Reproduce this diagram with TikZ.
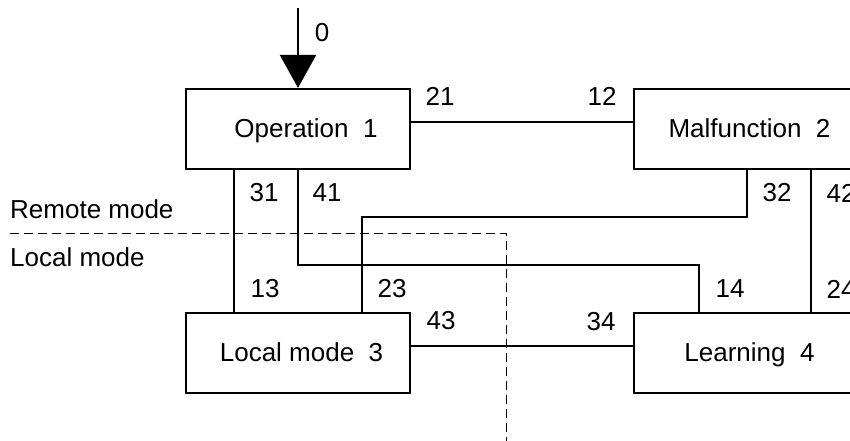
\documentclass[tikz,border=0pt]{standalone}
\usepackage{fontspec}
\setmainfont{Liberation Sans}
\usetikzlibrary{arrows.meta}

\begin{document}
\begin{tikzpicture}[x=1pt,y=-1pt]
\tikzstyle{every node}=[font=\fontsize{26}{30}\selectfont]
\tikzstyle{state}=[rectangle, draw, line width=2.2pt, minimum width=224pt, minimum height=80pt, inner sep=0pt, text height=20pt, text depth=4pt]
\tikzstyle{num}=[inner sep=0pt]
\tikzstyle{link}=[line width=2.2pt]
\path[use as bounding box, clip] (0,0) rectangle (850,441);

% states
\node[state] (op) at (298,129) {\hspace*{16pt}Operation\ \ 1};
\node[state] (mal) at (746,129) {\hspace*{7pt}Malfunction\ \ 2};
\node[state] (loc) at (298,353) {\hspace*{7pt}Local mode\ \ 3};
\node[state] (lrn) at (746,353) {\hspace*{7pt}Learning\ \ 4};

% start
\coordinate (start) at (298,8);
\draw[link, -{Triangle[length=33pt,width=36pt]}] (start) -- (op.north);
\node[num] (t0) at (322,33) {0};

% transitions
\draw[link] ([yshift=7pt]op.east) -- ([yshift=7pt]mal.west);
\draw[link] ([yshift=7pt]loc.east) -- ([yshift=7pt]lrn.west);
\draw[link] ([xshift=-64pt]op.south) -- ([xshift=-64pt]loc.north);
\draw[link] (op.south) -- (op.south |- 0,265) -| ([xshift=-47pt]lrn.north);
\draw[link] ([xshift=1pt]mal.south) -- ([xshift=1pt]mal.south |- 0,217) -| ([xshift=64pt]loc.north);
\draw[link] ([xshift=65pt]mal.south) -- ([xshift=65pt]lrn.north);

\node[num] (t21) at (440,96) {21};
\node[num] (t12) at (602,96) {12};
\node[num] (t31) at (264,193) {31};
\node[num] (t41) at (327,193) {41};
\node[num] (t32) at (777,193) {32};
\node[num] (t42) at (841,193) {42};
\node[num] (t13) at (265,289) {13};
\node[num] (t23) at (392,289) {23};
\node[num] (t14) at (730,289) {14};
\node[num] (t24) at (841,289) {24};
\node[num] (t43) at (441,321) {43};
\node[num] (t34) at (601,322) {34};

% mode border
\draw[line width=1pt, dash pattern=on 9pt off 5pt] (10,233) -- (506,233) -- (506,441);
\node[num, anchor=base west] (rem) at (10,218) {Remote mode};
\node[num, anchor=base west] (lcl) at (10,266) {Local mode};

\end{tikzpicture}
\end{document}
